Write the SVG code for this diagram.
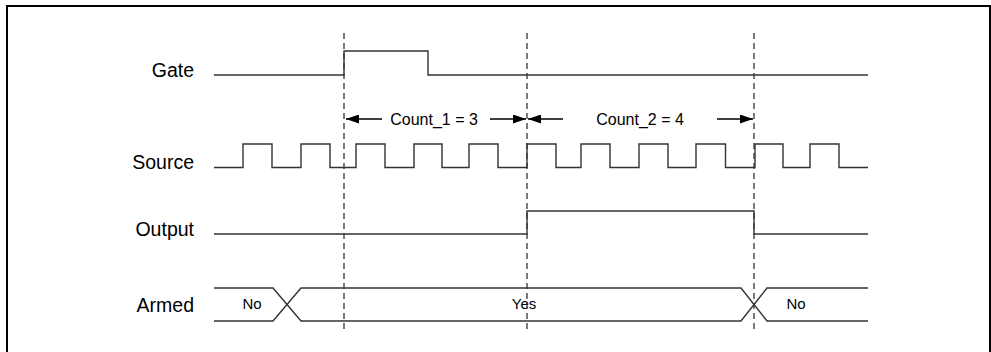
<svg xmlns="http://www.w3.org/2000/svg" width="991" height="352" viewBox="0 0 991 352">
<style>
.sig{fill:none;stroke:#333;stroke-width:1.4}
.dash{fill:none;stroke:#333;stroke-width:1.3;stroke-dasharray:6,4}
.lbl{font-family:"Liberation Sans",Arial,sans-serif;font-size:19.5px;fill:#000;text-anchor:end}
.cnt{font-family:"Liberation Sans",Arial,sans-serif;font-size:16px;fill:#000;text-anchor:middle}
.st{font-family:"Liberation Sans",Arial,sans-serif;font-size:15px;fill:#000;text-anchor:middle}
.arr{fill:none;stroke:#000;stroke-width:1.4}
</style>
<defs>
<marker id="ah" viewBox="0 0 13 9" refX="13" refY="4.5" markerWidth="13" markerHeight="9" markerUnits="userSpaceOnUse" orient="auto">
<path d="M0,0 L13,4.5 L0,9 Z" fill="#000"/>
</marker>
</defs>
<rect x="7" y="6" width="983" height="360" fill="#fff" stroke="#000" stroke-width="2"/>
<g id="labels">
<text class="lbl" x="194" y="77">Gate</text>
<text class="lbl" x="194" y="169">Source</text>
<text class="lbl" x="194" y="236">Output</text>
<text class="lbl" x="194" y="312">Armed</text>
</g>
<g id="gate">
<path class="sig" d="M214,75 H344 V51 H428 V75 H868"/>
</g>
<g id="source">
<path class="sig" d="M214,167.5 H243 V144 H272 V167.5 H301 V144 H330 V167.5 H356 V144 H385 V167.5 H414 V144 H442 V167.5 H469 V144 H498 V167.5 H527 V144 H556 V167.5 H581 V144 H610 V167.5 H639 V144 H668 V167.5 H696 V144 H725.5 V167.5 H755 V144 H783 V167.5 H810 V144 H839 V167.5 H868"/>
</g>
<g id="output">
<path class="sig" d="M214,234 H527 V211 H754 V234 H868"/>
</g>
<g id="armed">
<path class="sig" d="M214,288 H273 L301,321 H741 L767,288 H868"/>
<path class="sig" d="M214,321 H273 L301,288 H741 L767,321 H868"/>
<text class="st" x="252" y="309">No</text>
<text class="st" x="524" y="309">Yes</text>
<text class="st" x="796" y="309">No</text>
</g>
<g id="connectors">
<line class="dash" x1="344" y1="33" x2="344" y2="332"/>
<line class="dash" x1="527" y1="33" x2="527" y2="332"/>
<line class="dash" x1="754" y1="33" x2="754" y2="332"/>
<line class="arr" x1="382" y1="119" x2="346" y2="119" marker-end="url(#ah)"/>
<line class="arr" x1="490" y1="119" x2="526" y2="119" marker-end="url(#ah)"/>
<line class="arr" x1="563" y1="119" x2="528" y2="119" marker-end="url(#ah)"/>
<line class="arr" x1="717" y1="119" x2="753" y2="119" marker-end="url(#ah)"/>
</g>
<g id="count-labels">
<text class="cnt" x="434" y="124.5">Count_1 = 3</text>
<text class="cnt" x="640" y="124.5">Count_2 = 4</text>
</g>
</svg>
